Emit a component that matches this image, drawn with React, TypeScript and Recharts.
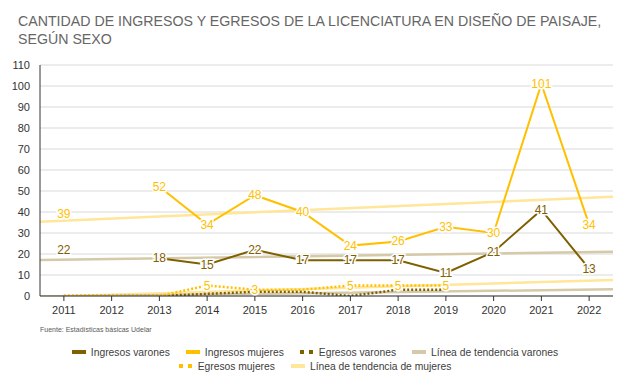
import { LineChart, Line, XAxis, YAxis, CartesianGrid, LabelList } from 'recharts';

const years = [2011, 2012, 2013, 2014, 2015, 2016, 2017, 2018, 2019, 2020, 2021, 2022];
const ingresosVarones = [22, null, 18, 15, 22, 17, 17, 17, 11, 21, 41, 13];
const ingresosMujeres = [39, null, 52, 34, 48, 40, 24, 26, 33, 30, 101, 34];
const egresosVarones = [0, 0, 0, 1, 2, 2, 0, 3, 3, null, null, null];
const egresosMujeres = [0, 0, 0, 5, 3, 3, 5, 5, 5, null, null, null];
const egresosMujeresSinEtiqueta = [2016];

// trend lines run edge to edge of the plot
const trendX = [2010.5, 2022.5];
const trendIngVarones = [17.1, 21.1];
const trendIngMujeres = [35.4, 47.3];
const trendEgVarones = [-0.3, 3.2];
const trendEgMujeres = [-0.4, 7.6];

const yTicks = [0, 10, 20, 30, 40, 50, 60, 70, 80, 90, 100, 110];

const C_VAR = '#7f6000';
const C_MUJ = '#ffc000';
const C_TVAR = '#d5c9a8';
const C_TMUJ = '#ffe699';

const data = [
  { x: trendX[0], tiv: trendIngVarones[0], tim: trendIngMujeres[0], tev: trendEgVarones[0], tem: trendEgMujeres[0] },
  ...years.map((y, i) => ({
    x: y,
    iv: ingresosVarones[i],
    im: ingresosMujeres[i],
    ev: egresosVarones[i],
    em: egresosMujeres[i],
  })),
  { x: trendX[1], tiv: trendIngVarones[1], tim: trendIngMujeres[1], tev: trendEgVarones[1], tem: trendEgMujeres[1] },
];

const font = '"Liberation Sans", Arial, sans-serif';

const makeLabel = (color: string, skip: (v: number, x: number) => boolean = () => false) =>
  (props: any) => {
    const { x, y, value, index } = props;
    if (value == null) return null;
    const row = data[index];
    if (row && skip(value, row.x)) return null;
    return (
      <text
        x={x}
        y={y}
        dy={4}
        textAnchor="middle"
        fill={color}
        stroke="#fff"
        strokeWidth={3}
        paintOrder="stroke"
        fontSize={12}
        fontFamily={font}
      >
        {value}
      </text>
    );
  };

const legendRows = [
  [
    { name: 'Ingresos varones', color: C_VAR, dotted: false },
    { name: 'Ingresos mujeres', color: C_MUJ, dotted: false },
    { name: 'Egresos varones', color: C_VAR, dotted: true },
    { name: 'Línea de tendencia varones', color: C_TVAR, dotted: false },
  ],
  [
    { name: 'Egresos mujeres', color: C_MUJ, dotted: true },
    { name: 'Línea de tendencia de mujeres', color: C_TMUJ, dotted: false },
  ],
];

function LegendIcon({ color, dotted }: { color: string; dotted: boolean }) {
  return (
    <svg width={14} height={6} style={{ marginRight: 5 }}>
      {dotted ? (
        <>
          <rect x={0} y={1} width={4} height={4} fill={color} />
          <rect x={9} y={1} width={4} height={4} fill={color} />
        </>
      ) : (
        <rect x={0} y={1} width={14} height={4} fill={color} />
      )}
    </svg>
  );
}

export default function App() {
  return (
    <div style={{ position: 'absolute', top: 0, left: 0, width: 630, height: 387, background: '#fff', fontFamily: font }}>
      <div style={{ position: 'absolute', left: 18, top: 12, fontSize: 14.2, lineHeight: '18px', color: '#666666' }}>
        CANTIDAD DE INGRESOS Y EGRESOS DE LA LICENCIATURA EN DISEÑO DE PAISAJE,
        <br />
        SEGÚN SEXO
      </div>
      <LineChart width={630} height={340} data={data} margin={{ top: 65, right: 17, left: 0, bottom: 9 }}>
        <CartesianGrid horizontal vertical={false} stroke="#d9d9d9" />
        <XAxis
          dataKey="x"
          type="number"
          domain={[2010.5, 2022.5]}
          ticks={years}
          interval={0}
          stroke="#333333"
          tickSize={5}
          tickMargin={5}
          height={35}
          tick={{ fontSize: 11, fill: '#333333', fontFamily: font }}
        />
        <YAxis
          domain={[0, 110]}
          ticks={yTicks}
          interval={0}
          allowDataOverflow
          width={40}
          stroke="#333333"
          tickLine={false}
          tickMargin={4}
          tick={{ fontSize: 11, fill: '#333333', fontFamily: font }}
        />
        <Line dataKey="tim" stroke={C_TMUJ} strokeWidth={2.5} dot={false} connectNulls isAnimationActive={false} />
        <Line dataKey="tiv" stroke={C_TVAR} strokeWidth={2.5} dot={false} connectNulls isAnimationActive={false} />
        <Line dataKey="tem" stroke={C_TMUJ} strokeWidth={2.5} dot={false} connectNulls isAnimationActive={false} />
        <Line dataKey="tev" stroke={C_TVAR} strokeWidth={2.5} dot={false} connectNulls isAnimationActive={false} />
        <Line dataKey="ev" stroke={C_VAR} strokeWidth={2.5} strokeDasharray="2 2" dot={false} isAnimationActive={false} />
        <Line dataKey="em" stroke={C_MUJ} strokeWidth={2.5} strokeDasharray="2 2" dot={false} isAnimationActive={false}>
          <LabelList dataKey="em" content={makeLabel(C_MUJ, (v, x) => v === 0 || egresosMujeresSinEtiqueta.includes(x))} />
        </Line>
        <Line dataKey="iv" stroke={C_VAR} strokeWidth={2} dot={false} isAnimationActive={false}>
          <LabelList dataKey="iv" content={makeLabel(C_VAR)} />
        </Line>
        <Line dataKey="im" stroke={C_MUJ} strokeWidth={2} dot={false} isAnimationActive={false}>
          <LabelList dataKey="im" content={makeLabel(C_MUJ)} />
        </Line>
      </LineChart>
      <div style={{ position: 'absolute', left: 40, top: 326, fontSize: 7, color: '#595959' }}>
        Fuente: Estadísticas básicas Udelar
      </div>
      <div style={{ position: 'absolute', left: 0, top: 345, width: 630, fontSize: 10.3, color: '#404040' }}>
        {legendRows.map((row, ri) => (
          <div key={ri} style={{ display: 'flex', justifyContent: 'center', height: 14, alignItems: 'center' }}>
            {row.map((it) => (
              <div key={it.name} style={{ display: 'flex', alignItems: 'center', margin: '0 8px' }}>
                <LegendIcon color={it.color} dotted={it.dotted} />
                <span>{it.name}</span>
              </div>
            ))}
          </div>
        ))}
      </div>
    </div>
  );
}
